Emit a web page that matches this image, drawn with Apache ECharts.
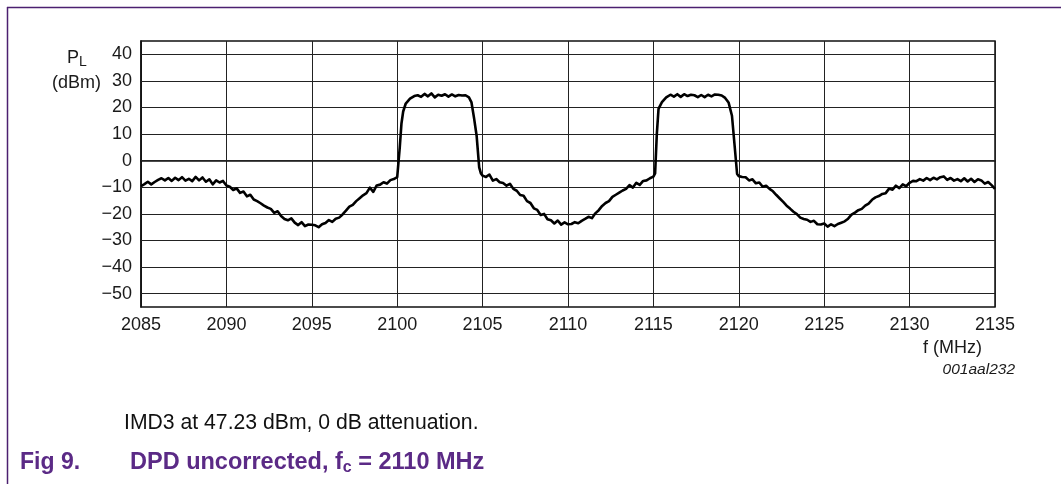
<!DOCTYPE html>
<html>
<head>
<meta charset="utf-8">
<script src="https://cdn.jsdelivr.net/npm/echarts@6/dist/echarts.min.js"></script>
<style>
html,body{margin:0;padding:0;background:#fff;}
#chart{width:1061px;height:484px;}
</style>
</head>
<body>
<div id="chart"></div>
<script>
// Frequency axis ticks (MHz)
const xTicks = [2085, 2090, 2095, 2100, 2105, 2110, 2115, 2120, 2125, 2130, 2135];
// Power axis gridlines (dBm)
const yTicks = [-50, -40, -30, -20, -10, 0, 10, 20, 30, 40];
// Measured spectrum: [frequency MHz, P_L dBm]
const spectrum = [
[2085.0,-9.6],[2085.2,-8.8],[2085.4,-7.9],[2085.6,-8.9],[2085.8,-8.0],[2086.0,-7.2],[2086.2,-6.6],[2086.4,-7.4],[2086.6,-6.5],[2086.8,-7.6],
[2087.0,-6.4],[2087.2,-7.3],[2087.4,-6.2],[2087.6,-7.5],[2087.8,-6.8],[2088.0,-7.7],[2088.2,-6.1],[2088.4,-7.4],[2088.6,-6.3],[2088.8,-7.9],
[2089.0,-7.0],[2089.2,-8.9],[2089.4,-7.4],[2089.6,-8.2],[2089.8,-7.6],[2090.0,-9.3],[2090.2,-9.8],[2090.4,-11.0],[2090.6,-10.4],[2090.8,-12.1],
[2091.0,-11.6],[2091.2,-13.4],[2091.4,-12.8],[2091.6,-14.6],[2091.8,-15.2],[2092.0,-16.0],[2092.2,-16.9],[2092.4,-17.6],[2092.6,-18.1],[2092.8,-19.6],
[2093.0,-19.0],[2093.2,-20.8],[2093.4,-21.9],[2093.6,-22.4],[2093.8,-21.7],[2094.0,-23.3],[2094.2,-24.2],[2094.4,-23.1],[2094.6,-24.6],[2094.8,-24.0],
[2095.0,-24.1],[2095.2,-24.3],[2095.4,-25.0],[2095.6,-23.9],[2095.8,-23.4],[2096.0,-22.3],[2096.2,-23.0],[2096.4,-21.8],[2096.6,-21.4],[2096.8,-20.2],
[2097.0,-18.8],[2097.2,-17.3],[2097.4,-16.6],[2097.6,-15.2],[2097.8,-14.1],[2098.0,-13.0],[2098.2,-12.2],[2098.4,-10.1],[2098.6,-11.7],[2098.8,-9.3],
[2099.0,-9.0],[2099.2,-8.1],[2099.4,-8.6],[2099.6,-7.3],[2099.8,-6.9],[2100.0,-6.2],[2100.05,-6.0],[2100.15,5.0],[2100.25,14.0],[2100.35,18.5],
[2100.5,21.5],[2100.75,23.3],[2101.0,24.3],[2101.2,24.6],[2101.4,24.0],[2101.6,25.1],[2101.8,24.2],[2102.0,25.3],[2102.2,23.8],[2102.4,24.8],
[2102.6,24.4],[2102.8,25.0],[2103.0,24.1],[2103.2,24.9],[2103.4,24.2],[2103.6,24.7],[2103.8,24.5],[2104.0,24.6],[2104.2,23.8],[2104.35,21.9],
[2104.5,16.0],[2104.65,9.4],[2104.8,-2.5],[2104.9,-4.8],[2105.0,-5.6],[2105.2,-6.1],[2105.4,-5.2],[2105.6,-7.5],[2105.8,-6.9],[2106.0,-8.1],
[2106.2,-8.4],[2106.4,-9.4],[2106.6,-8.7],[2106.8,-10.6],[2107.0,-11.3],[2107.2,-12.9],[2107.4,-13.2],[2107.6,-15.2],[2107.8,-15.9],[2108.0,-17.9],
[2108.2,-18.5],[2108.4,-20.4],[2108.6,-20.0],[2108.8,-22.0],[2109.0,-22.4],[2109.2,-23.6],[2109.4,-22.5],[2109.6,-24.0],[2109.8,-23.2],[2110.0,-23.9],
[2110.2,-23.8],[2110.4,-23.1],[2110.6,-23.5],[2110.8,-22.6],[2111.0,-21.9],[2111.2,-21.1],[2111.4,-21.6],[2111.6,-19.8],[2111.8,-18.6],[2112.0,-17.0],
[2112.2,-15.9],[2112.4,-15.2],[2112.6,-13.6],[2112.8,-12.8],[2113.0,-12.0],[2113.2,-11.2],[2113.4,-10.6],[2113.6,-9.2],[2113.8,-10.1],[2114.0,-8.3],
[2114.2,-9.1],[2114.4,-7.6],[2114.6,-7.4],[2114.8,-6.6],[2115.0,-6.0],[2115.1,-4.8],[2115.2,10.0],[2115.3,19.5],[2115.5,22.0],[2115.75,23.8],
[2116.0,24.8],[2116.2,24.1],[2116.4,25.0],[2116.6,24.0],[2116.8,25.0],[2117.0,24.3],[2117.2,24.8],[2117.4,24.6],[2117.6,23.9],[2117.8,24.7],
[2118.0,23.9],[2118.2,24.8],[2118.4,24.2],[2118.6,24.9],[2118.8,24.8],[2119.0,24.5],[2119.2,23.6],[2119.4,21.9],[2119.6,16.9],[2119.75,6.0],
[2119.9,-5.0],[2120.0,-5.8],[2120.2,-6.1],[2120.4,-6.2],[2120.6,-7.4],[2120.8,-7.0],[2121.0,-8.5],[2121.2,-8.2],[2121.4,-9.8],[2121.6,-9.4],
[2121.8,-10.6],[2122.0,-11.5],[2122.2,-12.9],[2122.4,-14.2],[2122.6,-15.5],[2122.8,-16.9],[2123.0,-18.0],[2123.2,-19.2],[2123.4,-20.1],[2123.6,-21.4],
[2123.8,-21.9],[2124.0,-22.2],[2124.2,-23.0],[2124.4,-22.6],[2124.6,-23.9],[2124.8,-24.0],[2125.0,-23.6],[2125.2,-24.8],[2125.4,-23.9],[2125.6,-24.6],
[2125.8,-23.8],[2126.0,-23.3],[2126.2,-22.8],[2126.4,-21.8],[2126.6,-20.3],[2126.8,-19.5],[2127.0,-18.6],[2127.2,-18.1],[2127.4,-16.9],[2127.6,-16.1],
[2127.8,-14.7],[2128.0,-13.8],[2128.2,-13.3],[2128.4,-12.5],[2128.6,-12.2],[2128.8,-10.5],[2129.0,-10.9],[2129.2,-9.4],[2129.4,-10.3],[2129.6,-8.9],
[2129.8,-9.6],[2130.0,-8.3],[2130.2,-7.6],[2130.4,-7.7],[2130.6,-6.9],[2130.8,-7.5],[2131.0,-6.5],[2131.2,-7.3],[2131.4,-6.4],[2131.6,-7.0],
[2131.8,-6.2],[2132.0,-5.9],[2132.2,-7.2],[2132.4,-6.5],[2132.6,-7.5],[2132.8,-6.9],[2133.0,-7.7],[2133.2,-6.6],[2133.4,-7.8],[2133.6,-6.8],
[2133.8,-8.0],[2134.0,-7.0],[2134.2,-7.4],[2134.4,-8.6],[2134.6,-8.0],[2134.8,-9.2],[2135.0,-10.6]
];

const FONT = '"Liberation Sans", Arial, Helvetica, sans-serif';
const PURPLE = '#5b2a86';
const INK = '#1a1a1a';

const chart = echarts.init(document.getElementById('chart'), null, {renderer: 'canvas'});
chart.setOption({
  animation: false,
  backgroundColor: '#ffffff',
  grid: {left: 141, right: 66, top: 41, bottom: 177, show: true, borderColor: '#111', borderWidth: 1.5, backgroundColor: 'transparent'},
  xAxis: {
    type: 'value', min: xTicks[0], max: xTicks[xTicks.length - 1], interval: 5,
    axisLine: {show: true, lineStyle: {color: '#111', width: 1.5}},
    axisTick: {show: false},
    axisLabel: {color: INK, fontSize: 18, fontFamily: FONT, margin: 9, formatter: v => String(v)},
    splitLine: {show: true, lineStyle: {color: '#222', width: 1}}
  },
  yAxis: {
    type: 'value', min: -55, max: 45, interval: 5,
    axisLine: {show: true, lineStyle: {color: '#111', width: 1.5}},
    axisTick: {show: false},
    axisLabel: {
      color: INK, fontSize: 18, fontFamily: FONT, margin: 9,
      formatter: v => (yTicks.indexOf(v) >= 0 ? String(v).replace('-', '\u2212') : '')
    },
    splitLine: {show: false}
  },
  series: [{
    type: 'line',
    data: spectrum,
    showSymbol: false,
    symbol: 'none',
    lineStyle: {color: '#000', width: 2.6, join: 'round'},
    z: 5,
    markLine: {
      silent: true, symbol: 'none', animation: false,
      label: {show: false},
      lineStyle: {color: '#222', width: 1, type: 'solid'},
      data: yTicks.map(v => ({yAxis: v}))
    }
  }],
  graphic: [
    {type: 'line', shape: {x1: 7, y1: 7.5, x2: 1061, y2: 7.5}, style: {stroke: '#4b2070', lineWidth: 1.5}},
    {type: 'line', shape: {x1: 7.5, y1: 7, x2: 7.5, y2: 484}, style: {stroke: '#4b2070', lineWidth: 1.5}},
    {type: 'text', x: 67, y: 58, style: {
      text: '{p|P}{s|L}', verticalAlign: 'middle', rich: {
        p: {fontSize: 18, fontFamily: FONT, fill: INK},
        s: {fontSize: 14, fontFamily: FONT, fill: INK, padding: [9, 0, 0, 0]}
      }}},
    {type: 'text', x: 52, y: 83, style: {text: '(dBm)', fontSize: 18, fontFamily: FONT, fill: INK, verticalAlign: 'middle'}},
    {type: 'text', x: 923, y: 348, style: {text: 'f (MHz)', fontSize: 18, fontFamily: FONT, fill: INK, verticalAlign: 'middle'}},
    {type: 'text', x: 1015, y: 370, style: {text: '001aal232', fontSize: 15.5, fontStyle: 'italic', fontFamily: FONT, fill: INK, align: 'right', verticalAlign: 'middle'}},
    {type: 'text', x: 124, y: 423, style: {text: 'IMD3 at 47.23 dBm, 0 dB attenuation.', fontSize: 21.2, fontFamily: FONT, fill: '#111', verticalAlign: 'middle'}},
    {type: 'text', x: 20, y: 463, style: {text: 'Fig 9.', fontSize: 23, fontWeight: 'bold', fontFamily: FONT, fill: PURPLE, verticalAlign: 'middle'}},
    {type: 'text', x: 130, y: 463, style: {
      text: '{a|DPD uncorrected, f}{b|c}{a| = 2110 MHz}', verticalAlign: 'middle', rich: {
        a: {fontSize: 23.5, fontWeight: 'bold', fontFamily: FONT, fill: PURPLE},
        b: {fontSize: 16, fontWeight: 'bold', fontFamily: FONT, fill: PURPLE, padding: [10, 0, 0, 0]}
      }}}
  ]
});
</script>
</body>
</html>
